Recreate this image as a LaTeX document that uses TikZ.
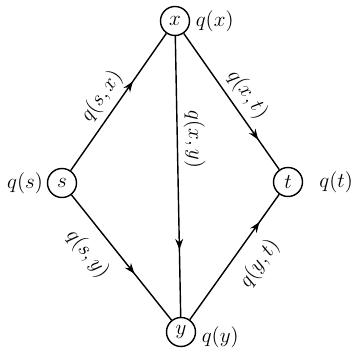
\documentclass[tikz,border=0pt]{standalone}
\usepackage{amsmath}
\usetikzlibrary{arrows.meta,positioning,decorations.markings}
\tikzset{
  vtx/.style={circle, draw=black, thick, minimum size=0.58cm, inner sep=0pt, font=\large},
  wlbl/.style={font=\large, inner sep=1pt},
  elbl/.style={font=\large, sloped},
  flow/.style={thick, draw=black, postaction={decorate},
               decoration={markings, mark=at position #1 with {\arrow{Stealth[length=6pt]}}}},
  flow/.default=0.7,
}

\begin{document}
\begin{tikzpicture}
  \useasboundingbox (0,0) rectangle (7.08,7.08);
  \node[vtx] (s) at (1.24,3.42) {$s$};
  \node[vtx] (x) at (3.50,6.66) {$x$};
  \node[vtx] (t) at (5.76,3.44) {$t$};
  \node[vtx] (y) at (3.62,0.44) {$y$};
  \node[wlbl, left=1pt of s]             (qs) {$q(s)$};
  \node[wlbl, right=2pt of x]            (qx) {$q(x)$};
  \node[wlbl, right=8pt of t]            (qt) {$q(t)$};
  \node[wlbl, right=2pt of y, yshift=-3pt] (qy) {$q(y)$};
  \draw[flow=0.65] (s) -- node[elbl, above, pos=0.47] {$q(s,x)$} (x);
  \draw[flow=0.78] (x) -- node[elbl, above, pos=0.52] {$q(x,t)$} (t);
  \draw[flow=0.76] (x) -- node[elbl, above, pos=0.37] {$q(x,y)$} (y);
  \draw[flow=0.63] (s) -- node[elbl, below=4pt, pos=0.35] {$q(s,y)$} (y);
  \draw[flow=0.78] (y) -- node[elbl, below=4pt, pos=0.56] {$q(y,t)$} (t);
\end{tikzpicture}
\end{document}
